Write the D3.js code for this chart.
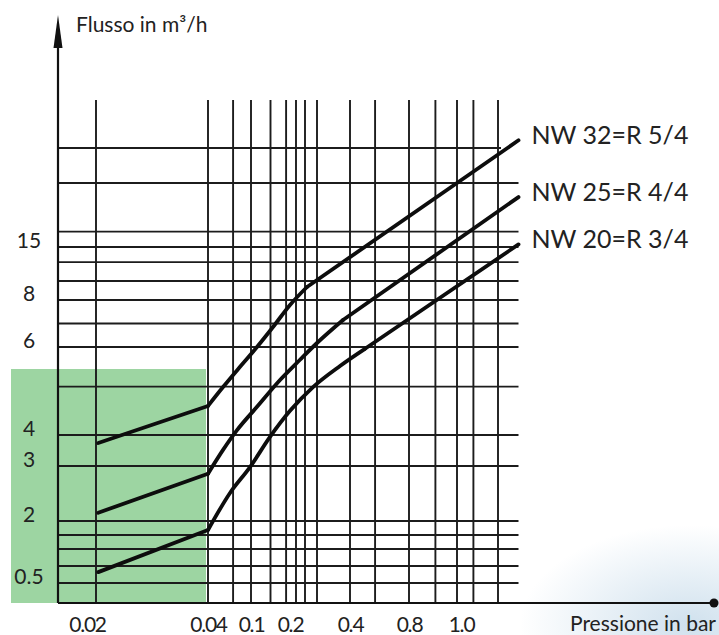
<!DOCTYPE html>
<html>
<head>
<meta charset="utf-8">
<script src="https://cdn.jsdelivr.net/npm/d3@7"></script>
<style>
  body { margin: 0; background: #fff; }
  text { font-family: Lato, "Open Sans", sans-serif; fill: #222; }
</style>
</head>
<body>
<div id="chart"></div>
<script>
// tick labels as printed on the scan
var xTicks = [0.02, 0.04, 0.1, 0.2, 0.4, 0.8, 1.0],
    xTickLabels = ["0.02", "0.04", "0.1", "0.2", "0.4", "0.8", "1.0"],
    yTicks = [0.5, 2, 3, 4, 6, 8, 15],
    yTickLabels = ["0.5", "2", "3", "4", "6", "8", "15"];

// grid lines (bar / m3/h)
var xGrid = [0.02, 0.04, 0.075, 0.1, 0.15, 0.19, 0.22, 0.25, 0.29, 0.4, 0.57, 0.8, 0.91, 1.0, 1.08, 1.2],
    yGrid = [0.5, 0.75, 1, 1.5, 2, 3, 4, 5.1, 6, 7, 8, 10.5, 13, 15, 16.2, 20, 25];

// curves: pressure (bar) -> flow (m3/h)
var seriesNames = ["NW 32=R 5/4", "NW 25=R 4/4", "NW 20=R 3/4"];
var pNW32 = [0.0204, 0.04, 0.061, 0.0847, 0.1154, 0.1564, 0.2, 0.2567, 1.3],
    qNW32 = [3.74, 4.66, 5.09, 5.55, 6.0, 6.85, 7.79, 9.72, 26.1];
var pNW25 = [0.0204, 0.04, 0.061, 0.0805, 0.1154, 0.1744, 0.2333, 0.29, 0.3767, 1.3],
    qNW25 = [2.15, 2.86, 3.52, 4.11, 4.64, 5.25, 5.71, 6.17, 7.15, 18.9];
var pNW20 = [0.0204, 0.04, 0.0707, 0.0986, 0.1487, 0.2, 0.2767, 0.3667, 0.5017, 1.3],
    qNW20 = [0.66, 1.68, 2.51, 2.98, 3.94, 4.55, 5.09, 5.57, 5.96, 15.2];

var highlightTop = 5.5;   // top of green band (m3/h)
var xMax = 1.3;

var width = 719, height = 635,
    x0 = 58, y0 = 603, gridTop = 100;

var svg = d3.select("#chart").append("svg")
    .attr("width", width)
    .attr("height", height);

// the scan's axes are not uniform, so piecewise scales
var x = d3.scaleLinear()
    .domain([0.02, 0.04, 0.1, 0.2, 0.4, 0.8, 1.0, 1.2])
    .range([96, 208, 251, 290, 350, 409, 457, 498]);

var y = d3.scaleLinear()
    .domain([0.5, 1, 2, 3, 4, 6, 8, 15, 20, 25])
    .range([583, 549, 521, 466, 435, 347, 300, 247, 183, 148]);

// faint watercolour in the corner
var defs = svg.append("defs");
var grad = defs.append("radialGradient").attr("id", "splash");
grad.append("stop").attr("offset", "0%").attr("stop-color", "#a9c8df").attr("stop-opacity", 0.55);
grad.append("stop").attr("offset", "100%").attr("stop-color", "#a9c8df").attr("stop-opacity", 0);
svg.append("ellipse")
    .attr("cx", 690).attr("cy", 625)
    .attr("rx", 170).attr("ry", 100)
    .attr("fill", "url(#splash)");

// green band
svg.append("rect")
    .attr("x", 11)
    .attr("y", y(highlightTop))
    .attr("width", x(0.04) - 2 - 11)
    .attr("height", y0 - y(highlightTop))
    .attr("fill", "#9dd5a2");

var grid = svg.append("g")
    .attr("stroke", "#1c1c1c")
    .attr("stroke-width", 1.9);

grid.selectAll("line.v")
  .data(xGrid)
  .enter().append("line")
    .attr("class", "v")
    .attr("x1", function(d) { return x(d); })
    .attr("x2", function(d) { return x(d); })
    .attr("y1", gridTop)
    .attr("y2", y0);

grid.selectAll("line.h")
  .data(yGrid)
  .enter().append("line")
    .attr("class", "h")
    .attr("x1", x0)
    .attr("x2", function(d, i) { return i == yGrid.length - 1 ? x(1.2) + 3 : x(xMax); })
    .attr("y1", function(d) { return y(d); })
    .attr("y2", function(d) { return y(d); });

// curves
var curves = [
  { name: seriesNames[0], p: pNW32, q: qNW32 },
  { name: seriesNames[1], p: pNW25, q: qNW25 },
  { name: seriesNames[2], p: pNW20, q: qNW20 }
];

// straight piece up to 0.04 bar, smooth bend, then straight run to the end
var line = d3.line()
    .x(function(d) { return x(d[0]); })
    .y(function(d) { return y(d[1]); });
var bend = d3.line()
    .curve(d3.curveMonotoneX)
    .x(function(d) { return x(d[0]); })
    .y(function(d) { return y(d[1]); });

var cg = svg.append("g").selectAll("g")
  .data(curves)
  .enter().append("g")
    .attr("fill", "none")
    .attr("stroke", "#0d0d0d")
    .attr("stroke-width", 3.8)
    .attr("stroke-linejoin", "round")
    .attr("stroke-linecap", "round");

cg.append("path")
    .attr("d", function(c) { return line(d3.zip(c.p, c.q).slice(0, 2)); });
cg.append("path")
    .attr("d", function(c) { return bend(d3.zip(c.p, c.q).slice(1, -1)); });
cg.append("path")
    .attr("d", function(c) { return line(d3.zip(c.p, c.q).slice(-2)); });

svg.append("g").selectAll("text")
  .data(curves)
  .enter().append("text")
    .attr("x", function(c) { return x(c.p[c.p.length - 1]) + 13; })
    .attr("y", function(c) { return y(c.q[c.q.length - 1]) + 4; })
    .style("font-size", "25px")
    .text(function(c) { return c.name; });

// axes
var xAxis = svg.append("g")
    .attr("transform", "translate(0," + y0 + ")")
    .call(d3.axisBottom(x)
      .tickValues(xTicks)
      .tickFormat(function(d, i) { return xTickLabels[i]; })
      .tickSize(0)
      .tickPadding(14));
xAxis.select(".domain").remove();
xAxis.selectAll("text")
    .attr("fill", "#222")
    .style("font-size", "21px")
    .style("letter-spacing", "-1.2px")
    .attr("dx", function(d, i) { return i == 0 ? -9 : (d == 1.0 ? 4 : 0); });

var yAxis = svg.append("g")
    .attr("transform", "translate(" + x0 + ",0)")
    .call(d3.axisLeft(y)
      .tickValues(yTicks)
      .tickFormat(function(d, i) { return yTickLabels[i]; })
      .tickSize(0)
      .tickPadding(29));
yAxis.select(".domain").remove();
yAxis.selectAll("text")
    .attr("fill", "#222")
    .attr("text-anchor", "middle")
    .attr("dy", "0.02em")
    .style("font-size", "21px");

svg.append("line")
    .attr("x1", x0).attr("x2", x0)
    .attr("y1", 46).attr("y2", y0)
    .attr("stroke", "#111").attr("stroke-width", 2.2);

svg.append("path")
    .attr("d", "M" + x0 + ",15 L" + (x0 + 4.5) + ",48 L" + (x0 - 4.5) + ",48 Z")
    .attr("fill", "#111");

svg.append("line")
    .attr("x1", x0).attr("x2", 714)
    .attr("y1", y0).attr("y2", y0)
    .attr("stroke", "#111").attr("stroke-width", 2.2);

svg.append("circle")
    .attr("cx", 714).attr("cy", y0).attr("r", 4.5)
    .attr("fill", "#111");

svg.append("text")
    .attr("x", 76).attr("y", 32)
    .style("font-size", "21px")
    .text("Flusso in m³/h");

svg.append("text")
    .attr("x", 570).attr("y", 631)
    .style("font-size", "21px")
    .text("Pressione in bar");
</script>
</body>
</html>
